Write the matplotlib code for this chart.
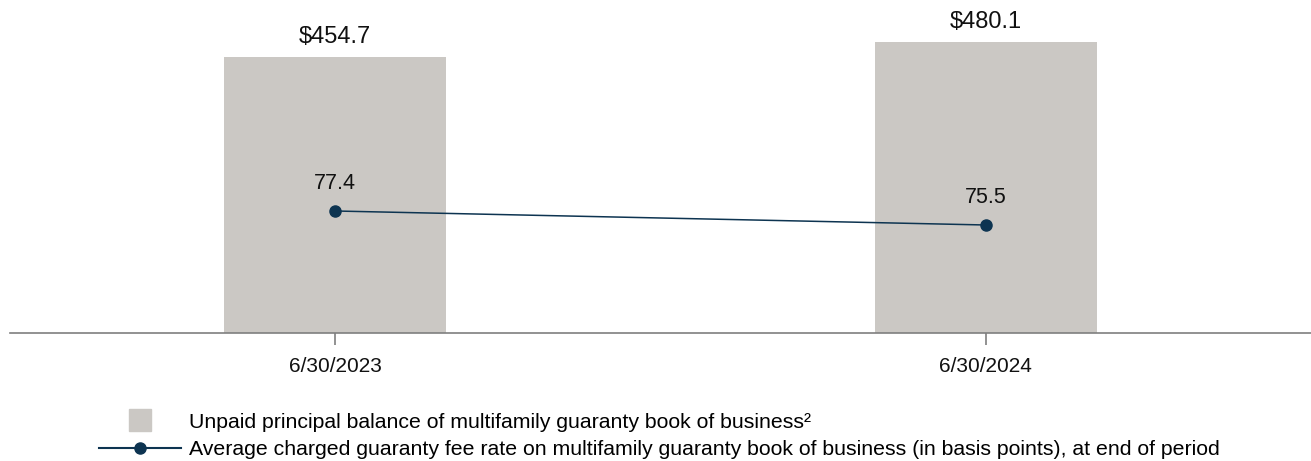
import matplotlib
matplotlib.use("Agg")
import matplotlib.pyplot as plt
from matplotlib.lines import Line2D

plt.rcParams["font.family"] = ["Liberation Sans", "DejaVu Sans"]

# data
dates = ["6/30/2023", "6/30/2024"]
upb = [454.7, 480.1]          # unpaid principal balance, $ billions
fee_bps = [77.4, 75.5]        # avg charged guaranty fee, basis points

bar_color = "#CBC8C4"
line_color = "#0D3451"
axis_color = "#7F7F7F"

fig = plt.figure(figsize=(13.11, 4.61), dpi=100)
ax = fig.add_axes([10 / 1311, 1 - 333 / 461, 1301 / 1311, 333 / 461])
x = list(range(len(dates)))

ax.bar(x, upb, width=0.341, color=bar_color, zorder=1)
ax.set_xlim(-0.5, 1.5)
ax.set_ylim(0, 548.6)
for xi, v in zip(x, upb):
    ax.annotate("${:.1f}".format(v), (xi, v), xytext=(0, 6.5), textcoords="offset points",
                ha="center", va="bottom", fontsize=17, color="#111111")

for s in ["top", "right", "left"]:
    ax.spines[s].set_visible(False)
ax.spines["bottom"].set_color(axis_color)
ax.spines["bottom"].set_linewidth(1.2)
ax.set_yticks([])
ax.set_xticks(x)
ax.set_xticklabels(dates, fontsize=15, color="#111111")
ax.tick_params(axis="x", length=8.5, width=1.2, color=axis_color, pad=8.5)

# fee rate on its own scale
ax2 = ax.twinx()
ax2.set_ylim(60.84, 106.04)
ax2.plot(x, fee_bps, color=line_color, lw=1.1, marker="o", markersize=8, zorder=3)
for xi, v in zip(x, fee_bps):
    ax2.annotate("{:.1f}".format(v), (xi, v), xytext=(0, 12), textcoords="offset points",
                 ha="center", va="bottom", fontsize=15.5, color="#111111")
ax2.set_yticks([])
for s in ax2.spines.values():
    s.set_visible(False)

handles = [
    Line2D([], [], ls="none", marker="s", markersize=16, color=bar_color),
    Line2D([], [], color=line_color, lw=1.5, marker="o", markersize=8),
]
labels = [
    "Unpaid principal balance of multifamily guaranty book of business²",
    "Average charged guaranty fee rate on multifamily guaranty book of business (in basis points), at end of period",
]
fig.legend(handles, labels, loc="center left", bbox_to_anchor=(99 / 1311, 1 - 436 / 461),
           frameon=False, fontsize=15.3, handlelength=3.85, handletextpad=0.37,
           borderpad=0, borderaxespad=0, labelspacing=0.4)

plt.savefig("out.png", dpi=100)
